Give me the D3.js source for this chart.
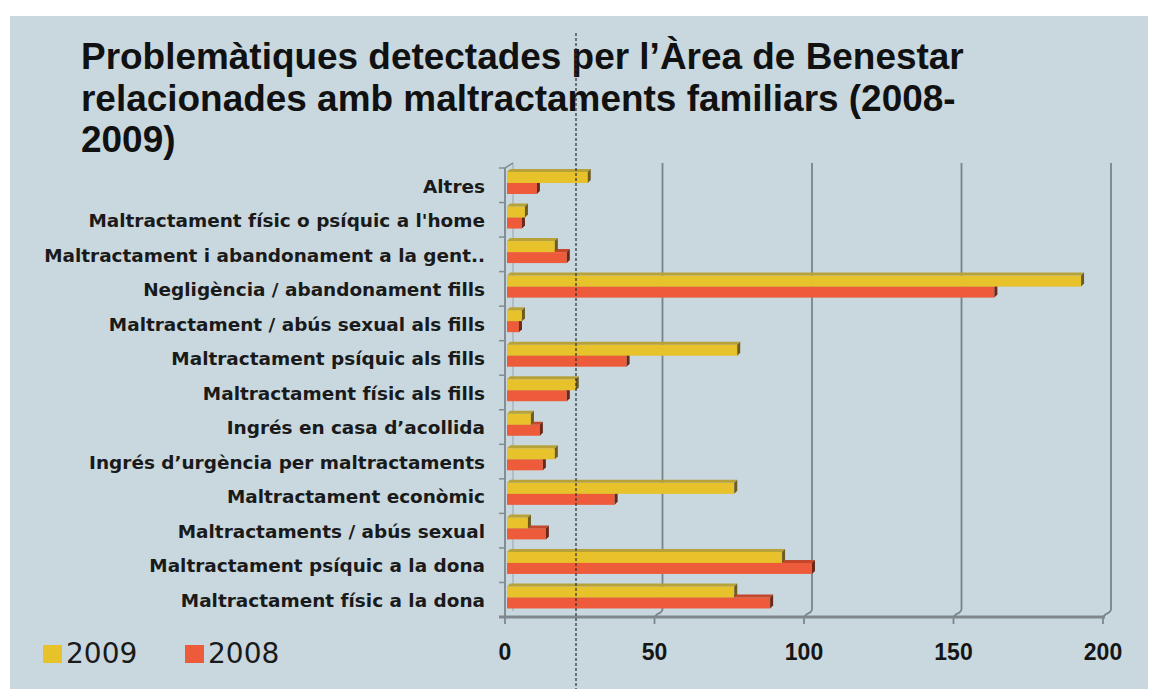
<!DOCTYPE html>
<html><head><meta charset="utf-8">
<script src="https://cdn.jsdelivr.net/npm/d3@7"></script>
<style>html,body{margin:0;padding:0;background:#fff;}svg{display:block}</style>
</head><body><svg id="c" width="1159" height="689"></svg>
<script>
const titleLines = ["Problemàtiques detectades per l’Àrea de Benestar", "relacionades amb maltractaments familiars (2008-", "2009)"];
const categories = ["Altres", "Maltractament físic o psíquic a l'home", "Maltractament i abandonament a la gent..", "Negligència / abandonament fills", "Maltractament / abús sexual als fills", "Maltractament psíquic als fills", "Maltractament físic als fills", "Ingrés en casa d’acollida", "Ingrés d’urgència per maltractaments", "Maltractament econòmic", "Maltractaments / abús sexual", "Maltractament psíquic a la dona", "Maltractament físic a la dona"];
const series = ["2009", "2008"];
const values2009 = [27, 6, 16, 192, 5, 77, 23, 8, 16, 76, 7, 92, 76];
const values2008 = [10, 5, 20, 163, 4, 40, 20, 11, 12, 36, 13, 102, 88];
const tickValues = [0, 50, 100, 150, 200];
const colors = {"2009": {front: "#e7c22b", top: "#b7a23a", side: "#6f5c1c"}, "2008": {front: "#ee5b3b", top: "#c4472c", side: "#6a2818"}};

const svg = d3.select("#c");
svg.append("rect").attr("x", 10).attr("y", 16).attr("width", 1138).attr("height", 673).attr("fill", "#c8d8de");

// title
const tg = svg.append("g");
const tl = tg.selectAll("text").data(titleLines).join("text")
  .attr("x", 81).attr("y", (d, i) => 69 + i * 41.5)
  .attr("font-family", "'Liberation Sans', Arial, sans-serif").attr("font-weight", "bold")
  .attr("font-size", 32).attr("fill", "#111").text(d => d);
{
  const w = tl.node().getComputedTextLength();
  tl.attr("font-size", 32 * 883 / w);
}

const x = d3.scaleLinear().domain([0, 200]).range([505, 1103]);
const y = d3.scaleBand().domain(categories).range([168, 617]);
const yi = d3.scaleBand().domain(series).range([4, 26]);
const depth = 8, bd = 3;

// back wall gridlines
const grid = svg.append("g");
tickValues.forEach(t => {
  if (t === 0) {
    grid.append("path").attr("d", `M${x(0) + depth},163 L${x(0) + depth},611`).attr("stroke", "#9aa3a8").attr("stroke-width", 1).attr("fill", "none");
  } else {
    grid.append("path").attr("d", `M${x(t) + depth},163 L${x(t) + depth},609 Q${x(t) + depth},612 ${x(t) + 3},614 L${x(t)},617`)
      .attr("stroke", "#7b8388").attr("stroke-width", 1.8).attr("fill", "none");
  }
});

// bars
const bars = svg.append("g");
categories.forEach((c, i) => {
  [["2008", values2008[i]], ["2009", values2009[i]]].forEach(([s, v]) => {
    const y0 = y(c) + yi(s), h = yi.bandwidth();
    const x0 = x(0) + 2, x1 = x(v) + 2;
    const col = colors[s];
    bars.append("rect").attr("x", x0).attr("y", y0).attr("width", x1 - x0).attr("height", h).attr("fill", col.front);
    bars.append("path").attr("d", `M${x0},${y0} L${x1},${y0} L${x1 + bd},${y0 - bd} L${x0 + bd},${y0 - bd} Z`).attr("fill", col.top);
    bars.append("path").attr("d", `M${x1},${y0} L${x1 + bd},${y0 - bd} L${x1 + bd},${y0 + h - bd} L${x1},${y0 + h} Z`).attr("fill", col.side);
  });
});

// axes
const ax = svg.append("g");
ax.append("line").attr("x1", x(0)).attr("x2", x(0)).attr("y1", 168).attr("y2", 617).attr("stroke", "#858d92").attr("stroke-width", 2);
ax.append("line").attr("x1", x(0)).attr("x2", x(0) + depth).attr("y1", 168).attr("y2", 163).attr("stroke", "#858d92").attr("stroke-width", 1.5);
const bounds = categories.map(c => y(c)).concat([617]);
ax.selectAll("line.yt").data(bounds).join("line").attr("class", "yt")
  .attr("x1", x(0) - 6).attr("x2", x(0)).attr("y1", d => d).attr("y2", d => d)
  .attr("stroke", "#858d92").attr("stroke-width", 1.5);
ax.append("line").attr("x1", x(0) - 6).attr("x2", x(200) + 2).attr("y1", 617).attr("y2", 617).attr("stroke", "#7f878c").attr("stroke-width", 3);
ax.selectAll("line.xt").data(tickValues).join("line").attr("class", "xt")
  .attr("x1", d => x(d)).attr("x2", d => x(d)).attr("y1", 617).attr("y2", 624)
  .attr("stroke", "#7f878c").attr("stroke-width", 1.8);
ax.selectAll("text.xl").data(tickValues).join("text").attr("class", "xl")
  .attr("x", d => x(d)).attr("y", 660).attr("text-anchor", "middle")
  .attr("font-family", "'Liberation Sans Narrow', 'Liberation Sans', Arial, sans-serif").attr("font-weight", "bold")
  .attr("font-size", 23).attr("fill", "#151515").text(d => d);

// category labels
const lab = svg.append("g").selectAll("text").data(categories).join("text")
  .attr("x", 485).attr("y", d => y(d) + y.bandwidth() / 2 - 1).attr("dy", "0.45em")
  .attr("text-anchor", "end")
  .attr("font-family", "'DejaVu Sans', sans-serif").attr("font-weight", "bold")
  .attr("font-size", 18).attr("fill", "#1a1a1a").text(d => d);
{
  const w = lab.filter((d, i) => i === 1).node().getComputedTextLength();
  lab.attr("font-size", 18 * 397 / w);
}

// legend
const lg = svg.append("g");
const legX = [43, 185];
series.forEach((s, i) => {
  lg.append("rect").attr("x", legX[i]).attr("y", 645).attr("width", 19).attr("height", 18).attr("fill", colors[s].front);
  lg.append("text").attr("x", legX[i] + 23).attr("y", 663)
    .attr("font-family", "'DejaVu Sans', sans-serif").attr("font-size", 28).attr("fill", "#1a1a1a").text(s);
});

// dashed fold line
svg.append("line").attr("x1", 576).attr("x2", 576).attr("y1", 33).attr("y2", 689)
  .attr("stroke", "#2a2f33").attr("stroke-width", 1.2).attr("stroke-dasharray", "3,2");
</script></body></html>
